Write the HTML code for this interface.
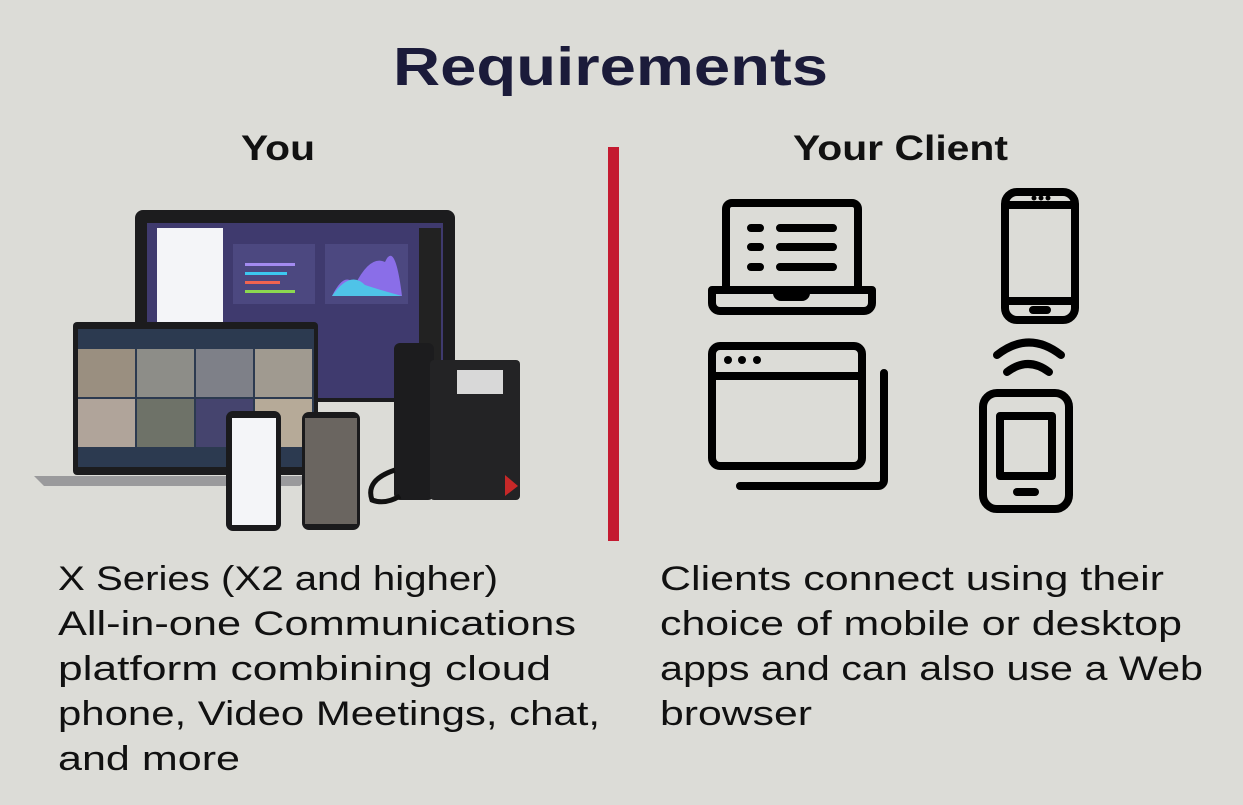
<!DOCTYPE html>
<html><head><meta charset="utf-8"><style>html,body{margin:0;padding:0;background:#dcdcd7;}svg{display:block}</style></head>
<body>
<svg width="1243" height="805" viewBox="0 0 1243 805" xmlns="http://www.w3.org/2000/svg" font-family="Liberation Sans, sans-serif">
<rect width="1243" height="805" fill="#dcdcd7"/>
<text x="393" y="85" font-size="54" font-weight="bold" fill="#1b1b3a" textLength="435" lengthAdjust="spacingAndGlyphs">Requirements</text>
<text x="241" y="160" font-size="35" font-weight="bold" fill="#111" textLength="74" lengthAdjust="spacingAndGlyphs">You</text>
<text x="793" y="160" font-size="35" font-weight="bold" fill="#111" textLength="215" lengthAdjust="spacingAndGlyphs">Your Client</text>
<rect x="608" y="147" width="11" height="394" fill="#c41a30"/>
<g font-size="34" fill="#111">
<text x="58" y="590" textLength="440" lengthAdjust="spacingAndGlyphs">X Series (X2 and higher)</text>
<text x="58" y="635" textLength="518" lengthAdjust="spacingAndGlyphs">All-in-one Communications</text>
<text x="58" y="680" textLength="493" lengthAdjust="spacingAndGlyphs">platform combining cloud</text>
<text x="58" y="725" textLength="542" lengthAdjust="spacingAndGlyphs">phone, Video Meetings, chat,</text>
<text x="58" y="770" textLength="182" lengthAdjust="spacingAndGlyphs">and more</text>
<text x="660" y="590" textLength="504" lengthAdjust="spacingAndGlyphs">Clients connect using their</text>
<text x="660" y="635" textLength="522" lengthAdjust="spacingAndGlyphs">choice of mobile or desktop</text>
<text x="660" y="680" textLength="543" lengthAdjust="spacingAndGlyphs">apps and can also use a Web</text>
<text x="660" y="725" textLength="152" lengthAdjust="spacingAndGlyphs">browser</text>
</g>
<!-- icons -->
<g fill="none" stroke="#000" stroke-width="8" stroke-linecap="round" stroke-linejoin="round">
<path d="M726 287 V209 a6 6 0 0 1 6 -6 H852 a6 6 0 0 1 6 6 V287"/>
<path d="M712 290 H872 V303 a8 8 0 0 1 -8 8 H720 a8 8 0 0 1 -8 -8 Z"/>
<path d="M737 290 H777 v3 a4 4 0 0 0 4 4 H802 a4 4 0 0 0 4 -4 v-3 H846"/>
<path d="M751 228 h9 M780 228 h53 M751 247 h9 M780 247 h53 M751 267 h9 M780 267 h53"/>
<rect x="1005" y="192" width="70" height="128" rx="12"/>
<path d="M1005 205 H1075 M1005 301 H1075 M1033 310 h14"/>
<rect x="712" y="346" width="150" height="120" rx="8"/>
<path d="M712 376 H862 M884 373 V480 a6 6 0 0 1 -6 6 H740"/>
<path d="M997 355 Q1029 330 1061 355 M1007 372 Q1028 356 1049 372"/>
<rect x="983" y="393" width="86" height="116" rx="14"/>
<rect x="1000" y="416" width="52" height="60"/>
<path d="M1017 492 h18"/>
</g>
<g fill="#000"><circle cx="1034" cy="198" r="2.5"/><circle cx="1041" cy="198" r="2.5"/><circle cx="1048" cy="198" r="2.5"/>
<circle cx="728" cy="360" r="4"/><circle cx="742" cy="360" r="4"/><circle cx="757" cy="360" r="4"/></g>
<!-- device collage -->
<rect x="135" y="210" width="320" height="192" rx="8" fill="#1c1c1e"/>
<rect x="147" y="223" width="296" height="175" fill="#3f3a6e"/>
<rect x="157" y="228" width="66" height="95" fill="#f4f5f8"/>
<rect x="233" y="244" width="82" height="60" fill="#4c4880"/>
<rect x="325" y="244" width="83" height="60" fill="#4c4880"/>
<path d="M332 296 Q345 270 355 285 Q370 255 385 262 Q395 240 402 296 Z" fill="#8a6ee8"/>
<path d="M332 296 Q350 270 365 285 Q380 290 402 296 Z" fill="#4fc3e8"/>
<rect x="245" y="263" width="50" height="3" fill="#a38bf0"/><rect x="245" y="272" width="42" height="3" fill="#3cc8f0"/><rect x="245" y="281" width="35" height="3" fill="#f06450"/><rect x="245" y="290" width="50" height="3" fill="#8bd850"/>
<rect x="419" y="228" width="22" height="170" fill="#222"/>
<rect x="73" y="322" width="245" height="153" rx="4" fill="#1c1c1e"/>
<rect x="78" y="329" width="236" height="138" fill="#2c3a50"/>
<g fill="#9a8f80"><rect x="78" y="349" width="57" height="48"/><rect x="137" y="349" width="57" height="48" fill="#8d8d88"/><rect x="196" y="349" width="57" height="48" fill="#7e8088"/><rect x="255" y="349" width="57" height="48" fill="#a09a90"/>
<rect x="78" y="399" width="57" height="48" fill="#b0a49a"/><rect x="137" y="399" width="57" height="48" fill="#6e7268"/><rect x="196" y="399" width="57" height="48" fill="#45446e"/><rect x="255" y="399" width="57" height="48" fill="#b6aa98"/></g>
<path d="M34 476 H310 L300 486 H44 Z" fill="#9a9a9c"/>
<rect x="226" y="411" width="55" height="120" rx="7" fill="#1a1a1c"/>
<rect x="232" y="418" width="44" height="107" fill="#f4f5f8"/>
<rect x="302" y="412" width="58" height="118" rx="7" fill="#1a1a1c"/>
<rect x="305" y="418" width="52" height="106" fill="#6a6560"/>
<rect x="394" y="343" width="40" height="157" rx="6" fill="#1c1c1e"/>
<rect x="430" y="360" width="90" height="140" rx="4" fill="#232325"/>
<rect x="457" y="370" width="46" height="24" fill="#d8d8d8"/>
<path d="M505 475 L518 486 L505 496 Z" fill="#c62828"/>
<path d="M395 470 Q365 480 372 500 Q385 505 400 496" fill="none" stroke="#111" stroke-width="5"/>
</svg>
</body></html>
